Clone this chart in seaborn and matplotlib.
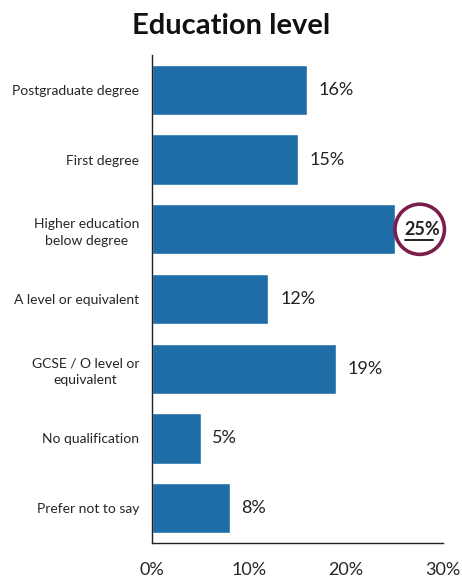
import matplotlib
matplotlib.use("Agg")
import matplotlib.pyplot as plt
import seaborn as sns
import pandas as pd
from matplotlib.patches import Ellipse

categories = ["Postgraduate degree", "First degree", "Higher education\nbelow degree",
              "A level or equivalent", "GCSE / O level or\nequivalent", "No qualification",
              "Prefer not to say"]
values = [16, 15, 25, 12, 19, 5, 8]
xticks = [0, 10, 20, 30]
xtick_labels = ["0%", "10%", "20%", "30%"]

df = pd.DataFrame({"cat": categories, "val": values})

sns.set_theme(style="white")
plt.rcParams["font.family"] = ["Lato", "DejaVu Sans"]

fig = plt.figure(figsize=(4.62, 5.8), dpi=100)
ax = fig.add_axes([152/462, 1-543/580, (443-152)/462, (543-55)/580])
sns.barplot(data=df, x="val", y="cat", orient="h", color="#1f6da7", saturation=1,
            width=0.72, ax=ax)
ax.set_xlim(0, 30)
ax.set_ylim(6.5, -0.5)
ax.set_xticks(xticks)
ax.set_xticklabels(xtick_labels, fontsize=13)
ax.tick_params(axis="x", length=0, pad=14)
ax.tick_params(axis="y", length=0, pad=9, labelsize=10)
for lab in ax.get_yticklabels():
    lab.set_multialignment("center")
    lab.set_linespacing(1.45)
ax.set_xlabel("")
ax.set_ylabel("")
for s in ["top", "right"]:
    ax.spines[s].set_visible(False)
for s in ["left", "bottom"]:
    ax.spines[s].set_color("#222222")
    ax.spines[s].set_linewidth(1.0)

for i, v in enumerate(values):
    if v == max(values):
        ax.text(v + 1.05, i, f"{v}%", va="center", ha="left", fontsize=13,
                fontweight="bold", color="#222222")
        ax.plot([v + 1.1, v + 3.95], [i + 0.16, i + 0.16], color="#222222", lw=1.4,
                clip_on=False)
        e = Ellipse((v + 2.6, i), width=5.1, height=0.72, fill=False,
                    edgecolor="#7a1e4c", lw=2.6, clip_on=False)
        ax.add_patch(e)
    else:
        ax.text(v + 1.2, i, f"{v}%", va="center", ha="left", fontsize=13,
                color="#222222")

fig.text(0.5, 0.955, "Education level", ha="center", va="center", fontsize=21,
         fontweight="bold", color="#111111")

fig.savefig("out.png", dpi=100, facecolor="white")
